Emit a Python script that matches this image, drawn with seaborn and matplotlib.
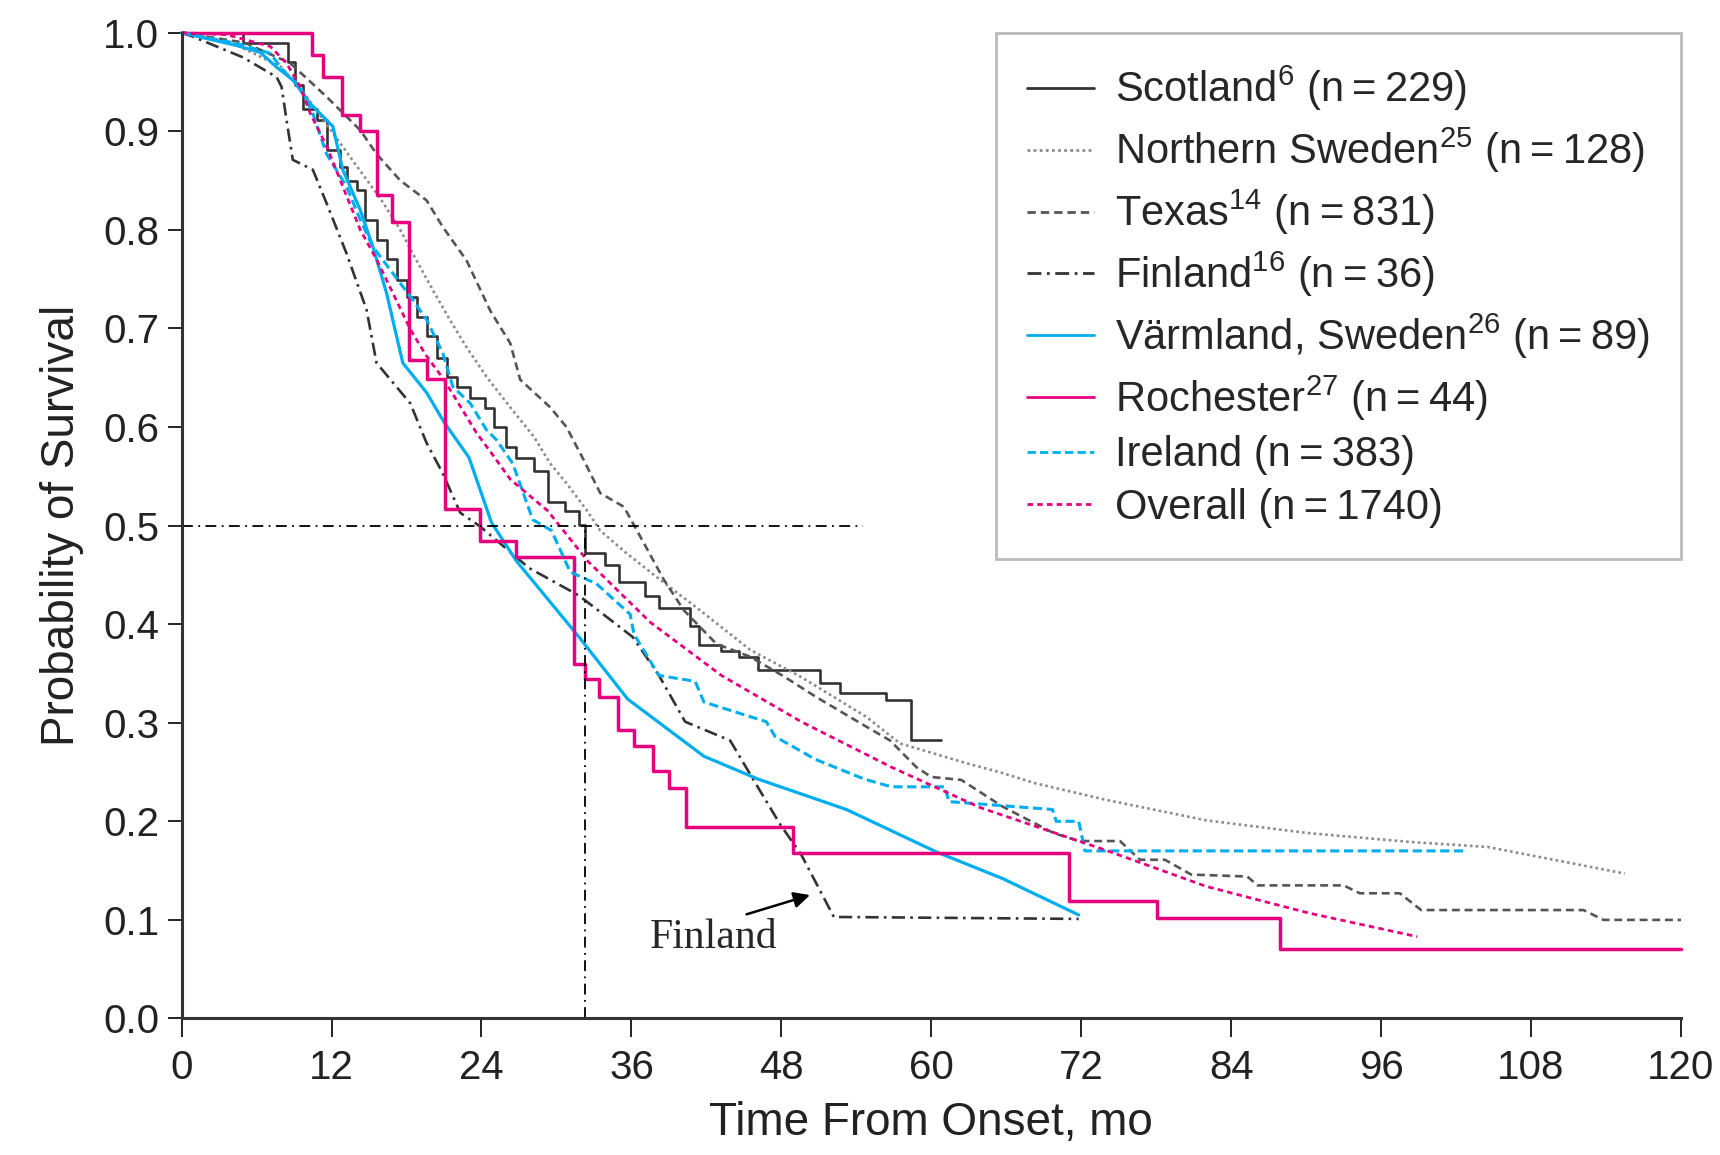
import matplotlib
matplotlib.use("Agg")
import matplotlib.pyplot as plt
from matplotlib import font_manager
import seaborn as sns

# survival curves: time (months) and probability of survival
scotland_t = [0, 4.9, 8.5, 9.1, 9.7, 10.8, 11.6, 12.7, 13.2, 14.0, 14.7, 15.6, 16.4, 17.2,
              18.0, 18.8, 19.6, 20.4, 21.2, 22.0, 23.1, 24.3, 25.0, 26.0, 26.8, 28.2, 29.3,
              30.7, 31.8, 32.3, 33.9, 35.0, 37.1, 38.2, 40.7, 41.4, 43.2, 44.6, 46.1, 51.1,
              52.7, 56.4, 58.4, 60.8]
scotland_s = [1.0, 0.99, 0.97, 0.947, 0.923, 0.911, 0.881, 0.864, 0.85, 0.84, 0.81, 0.79,
              0.77, 0.749, 0.732, 0.712, 0.692, 0.67, 0.651, 0.641, 0.629, 0.619, 0.6, 0.58,
              0.569, 0.555, 0.524, 0.515, 0.501, 0.472, 0.46, 0.443, 0.429, 0.416, 0.398,
              0.379, 0.373, 0.367, 0.354, 0.34, 0.33, 0.323, 0.282, 0.282]

nsweden_t = [0, 4, 8, 10, 12, 14, 16, 17.5, 18.8, 20.1, 21.5, 22.8, 24.4, 26.3, 28.2, 29.5,
             30.8, 32.4, 33.5, 35.6, 38.3, 41.5, 45.5, 49.5, 54.8, 57.5, 62.8, 65.7, 68.2,
             73.9, 82.0, 90.2, 98.4, 104.5, 108.6, 115.5]
nsweden_s = [1.0, 0.99, 0.965, 0.935, 0.9, 0.865, 0.83, 0.8, 0.769, 0.739, 0.708, 0.681,
             0.651, 0.62, 0.59, 0.563, 0.543, 0.516, 0.495, 0.472, 0.445, 0.414, 0.374,
             0.347, 0.306, 0.279, 0.259, 0.249, 0.239, 0.222, 0.201, 0.188, 0.179, 0.174,
             0.164, 0.147]

texas_t = [0, 5, 8.7, 11.6, 14.3, 15.6, 17.5, 19.6, 20.9, 22.8, 24.7, 26.3, 27.1, 29.5, 30.8,
           32.2, 33.5, 35.4, 36.7, 38.6, 40.2, 42.8, 45.5, 48.2, 50.8, 54.8, 56.7, 58.8,
           60.0, 62.4, 65.7, 69.8, 71.8, 75.1, 76.7, 78.7, 80.8, 85.3, 86.1, 93.0, 94.3,
           97.5, 99.2, 112.2, 113.8, 120]
texas_s = [1.0, 0.99, 0.969, 0.935, 0.901, 0.877, 0.85, 0.83, 0.803, 0.769, 0.718, 0.685,
           0.648, 0.62, 0.6, 0.566, 0.533, 0.519, 0.489, 0.445, 0.414, 0.38, 0.367, 0.347,
           0.326, 0.296, 0.282, 0.255, 0.245, 0.242, 0.215, 0.188, 0.18, 0.18, 0.161, 0.161,
           0.146, 0.144, 0.135, 0.135, 0.127, 0.127, 0.11, 0.11, 0.1, 0.1]

finland_t = [0, 0.9, 4.9, 7.6, 8.0, 8.4, 8.9, 10.5, 11.6, 13.2, 14.8, 15.6, 18.3, 19.6, 20.9,
             22.3, 23.9, 27.8, 31.8, 36.1, 38.2, 40.3, 43.9, 46.1, 47.9, 49.6, 52.2, 71.8]
finland_s = [1.0, 0.996, 0.975, 0.955, 0.945, 0.911, 0.871, 0.861, 0.827, 0.776, 0.719,
             0.665, 0.624, 0.584, 0.553, 0.513, 0.499, 0.457, 0.429, 0.387, 0.348, 0.301,
             0.282, 0.235, 0.197, 0.166, 0.103, 0.101]

varmland_t = [0, 4.4, 6.3, 7.6, 8.9, 10.3, 12.1, 12.9, 14.3, 15.3, 16.4, 17.7, 19.6, 21.0,
              23.0, 24.8, 26.8, 31.8, 35.7, 41.8, 46.1, 53.2, 60.4, 65.7, 71.8]
varmland_s = [1.0, 0.987, 0.98, 0.965, 0.952, 0.928, 0.905, 0.861, 0.82, 0.783, 0.736,
              0.665, 0.635, 0.605, 0.569, 0.503, 0.464, 0.387, 0.324, 0.266, 0.243, 0.212,
              0.169, 0.142, 0.105]

rochester_t = [0, 10.4, 11.3, 12.8, 14.3, 15.6, 16.8, 18.2, 19.6, 21.1, 23.9, 26.8, 31.4,
               32.3, 33.4, 34.9, 36.2, 37.7, 39.0, 40.4, 48.9, 71.0, 78.1, 87.9, 120]
rochester_s = [1.0, 0.977, 0.955, 0.917, 0.9, 0.835, 0.808, 0.668, 0.649, 0.517, 0.484,
               0.468, 0.36, 0.344, 0.326, 0.293, 0.276, 0.251, 0.234, 0.194, 0.168, 0.119,
               0.102, 0.07, 0.07]

ireland_t = [0, 4.4, 7.1, 8.1, 9.5, 10.5, 11.6, 13.2, 14.3, 15.3, 16.9, 18.5, 19.6, 20.9,
             21.7, 23.1, 24.4, 25.2, 26.5, 28.1, 29.6, 31.1, 33.2, 35.9, 36.2, 38.2, 41.1,
             41.8, 46.8, 47.5, 50.7, 54.6, 56.8, 61.1, 61.4, 69.7, 70.0, 71.8, 72.3, 102.8]
ireland_s = [1.0, 0.989, 0.979, 0.962, 0.945, 0.918, 0.877, 0.844, 0.81, 0.783, 0.756,
             0.729, 0.709, 0.675, 0.641, 0.624, 0.597, 0.587, 0.563, 0.506, 0.495, 0.453,
             0.441, 0.41, 0.39, 0.348, 0.342, 0.321, 0.301, 0.286, 0.263, 0.243, 0.235,
             0.235, 0.22, 0.212, 0.2, 0.2, 0.17, 0.17]

overall_t = [0, 3.6, 7.1, 8.4, 9.5, 10.3, 11.6, 12.9, 14.3, 15.6, 16.9, 18.3, 19.6, 21.0,
             22.3, 23.6, 25.0, 26.3, 27.6, 29.3, 32.5, 37.5, 43.2, 49.6, 56.8, 63.9, 73.9,
             82.0, 90.2, 98.9]
overall_s = [1.0, 0.998, 0.986, 0.969, 0.945, 0.918, 0.885, 0.844, 0.8, 0.77, 0.736, 0.699,
             0.672, 0.648, 0.621, 0.594, 0.57, 0.547, 0.533, 0.515, 0.464, 0.402, 0.348,
             0.301, 0.255, 0.214, 0.171, 0.134, 0.107, 0.083]

eq = "\u2009=\u2009"
labels = [
    r"Scotland$^{\mathrm{6}}$ (n" + eq + "229)",
    r"Northern Sweden$^{\mathrm{25}}$ (n" + eq + "128)",
    r"Texas$^{\mathrm{14}}$ (n" + eq + "831)",
    r"Finland$^{\mathrm{16}}$ (n" + eq + "36)",
    r"Värmland, Sweden$^{\mathrm{26}}$ (n" + eq + "89)",
    r"Rochester$^{\mathrm{27}}$ (n" + eq + "44)",
    "Ireland (n" + eq + "383)",
    "Overall (n" + eq + "1740)",
]

median_time = 32.3
median_level = 0.5
median_line_end = 54.5

sns.set_theme(style="ticks")
names = {f.name for f in font_manager.fontManager.ttflist}
narrow = "Liberation Sans Narrow" if "Liberation Sans Narrow" in names else "Liberation Sans"
plt.rcParams["font.family"] = [narrow, "DejaVu Sans"]
plt.rcParams["mathtext.fontset"] = "custom"
plt.rcParams["mathtext.rm"] = narrow
plt.rcParams["mathtext.it"] = narrow

fig = plt.figure(figsize=(17.2, 11.55), dpi=100)
ax = fig.add_axes([0.1056, 0.1182, 0.8717, 0.8535])

pink = "#e6007e"
cyan = "#00aeef"
series = [
    (scotland_t, scotland_s, "#333333", "-", "steps-post", 1.9),
    (nsweden_t, nsweden_s, "#8c8c8c", (0, (1, 1.2)), "default", 1.9),
    (texas_t, texas_s, "#555555", (0, (3, 1.8)), "default", 1.9),
    (finland_t, finland_s, "#333333", (0, (5, 2, 1, 2)), "default", 1.9),
    (varmland_t, varmland_s, cyan, "-", "default", 2.3),
    (rochester_t, rochester_s, pink, "-", "steps-post", 2.5),
    (ireland_t, ireland_s, cyan, (0, (3, 1.5)), "default", 2.2),
    (overall_t, overall_s, pink, (0, (2, 1.5)), "default", 2.0),
]
for (t, s, col, ls, dstyle, lw), lab in zip(series, labels):
    sns.lineplot(x=t, y=s, ax=ax, color=col, linestyle=ls, drawstyle=dstyle,
                 linewidth=lw, estimator=None, label=lab, clip_on=False)

# median survival reference lines
ax.hlines(median_level, 0, median_line_end, color="black", linewidth=1.3,
          linestyle=(0, (6, 3, 1, 3)))
ax.vlines(median_time, 0, median_level, color="black", linewidth=1.3,
          linestyle=(0, (6, 3, 1, 3)))

ax.annotate("Finland", xy=(50.5, 0.126), xytext=(37.5, 0.082),
            fontsize=30, family="Liberation Serif", va="center", ha="left",
            arrowprops=dict(arrowstyle="-|>", color="black", lw=1.8,
                            mutation_scale=24, relpos=(0.65, 1.0)))

ax.set_xlim(0, 120)
ax.set_ylim(0, 1.0)
ax.set_xticks(range(0, 121, 12))
ax.set_yticks([i / 10 for i in range(11)])
ax.set_yticklabels([f"{i / 10:.1f}" for i in range(11)])
sns.despine(ax=ax)
for sp in ("left", "bottom"):
    ax.spines[sp].set_linewidth(2.2)
    ax.spines[sp].set_color("#333333")
ax.tick_params(axis="y", length=10, width=1.4, colors="#222222", labelsize=29, pad=6)
ax.tick_params(axis="x", length=14, width=1.4, colors="#222222", labelsize=29, pad=8)
ax.set_xlabel("Time From Onset, mo", fontsize=33, color="#222222", labelpad=10)
ax.set_ylabel("Probability of Survival", fontsize=33, color="#222222", labelpad=14)

leg = ax.legend(loc="upper right", bbox_to_anchor=(1.0, 1.0), borderaxespad=0,
                fontsize=30, frameon=True, fancybox=False, handlelength=1.6,
                handletextpad=0.5, labelspacing=0.3, borderpad=0.75)
leg.get_frame().set_edgecolor("#aaaaaa")
leg.get_frame().set_linewidth(2)
for line in leg.get_lines():
    line.set_linewidth(2.0)

fig.savefig("out.png", dpi=100)
